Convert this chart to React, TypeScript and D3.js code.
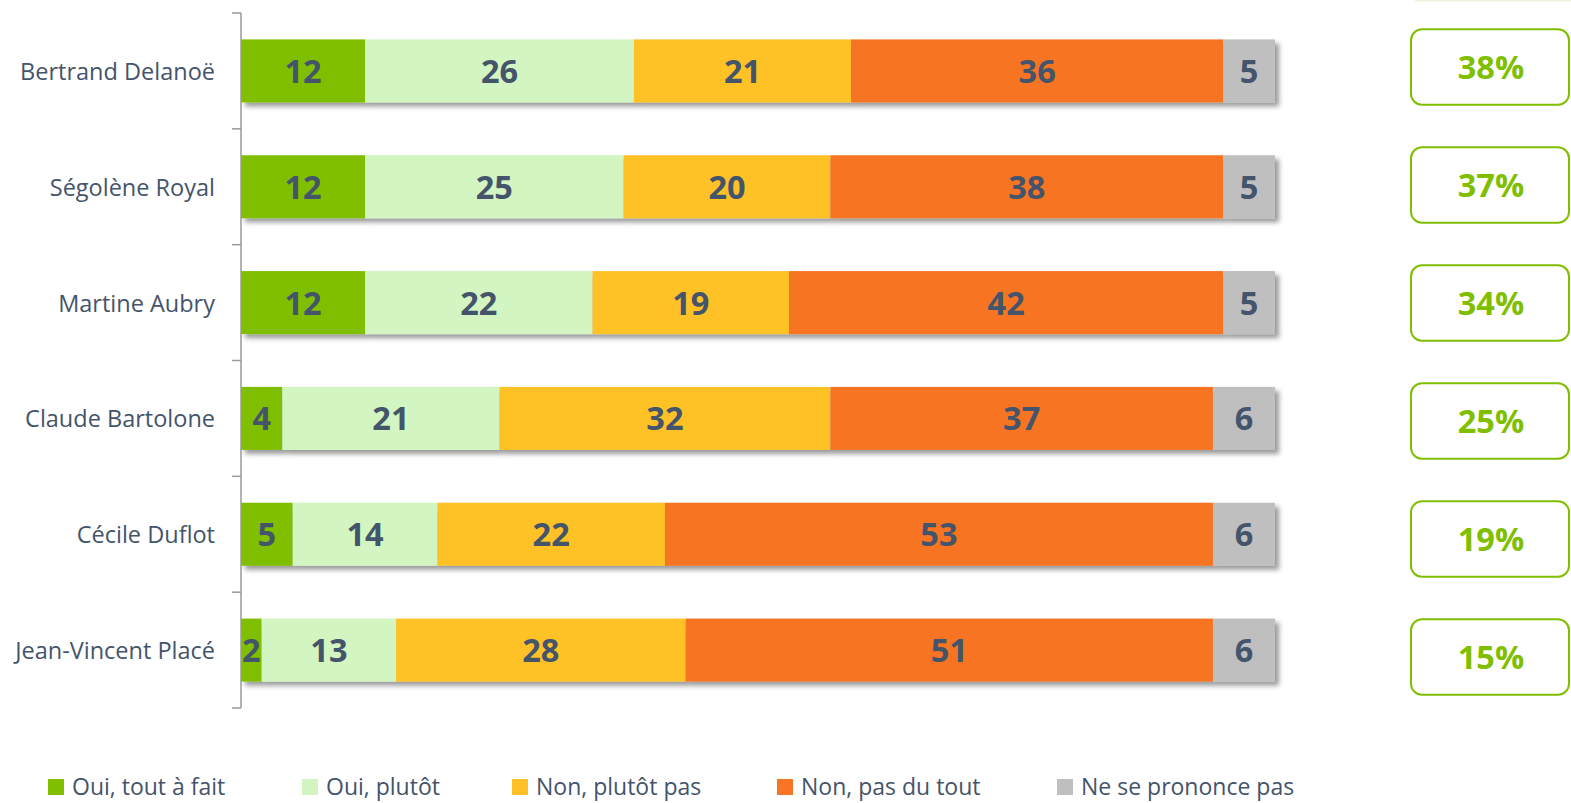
import React from "react";
import * as d3 from "d3";

const categories = [
  "Bertrand Delanoë",
  "Ségolène Royal",
  "Martine Aubry",
  "Claude Bartolone",
  "Cécile Duflot",
  "Jean-Vincent Placé",
];
const seriesNames = [
  "Oui, tout à fait",
  "Oui, plutôt",
  "Non, plutôt pas",
  "Non, pas du tout",
  "Ne se prononce pas",
];
const ouiToutAFait = [12, 12, 12, 4, 5, 2];
const ouiPlutot = [26, 25, 22, 21, 14, 13];
const nonPlutotPas = [21, 20, 19, 32, 22, 28];
const nonPasDuTout = [36, 38, 42, 37, 53, 51];
const nsp = [5, 5, 5, 6, 6, 6];
const totalOui = ["38%", "37%", "34%", "25%", "19%", "15%"];

const colors = ["#7fbf00", "#d2f5c1", "#fec128", "#f77524", "#bfbfbf"];
const textColor = "#44546a";
const green = "#7fbf00";
const legendX = [48, 302, 512, 777, 1057];

export default function App() {
  const W = 1571;
  const H = 803;
  const seriesVals = [ouiToutAFait, ouiPlutot, nonPlutotPas, nonPasDuTout, nsp];
  const rows = categories.map((c, i) => {
    const o: any = { cat: c };
    seriesNames.forEach((s, k) => (o[s] = seriesVals[k][i]));
    return o;
  });
  const stack = d3.stack<any>().keys(seriesNames)(rows);
  const x = d3.scaleLinear().domain([0, 100]).range([241, 1275]);
  const y = d3
    .scaleBand<string>()
    .domain(categories)
    .range([13, 708])
    .paddingInner(0.456)
    .paddingOuter(0.228);
  const step = y.step();
  const boxY = d3.scaleBand<string>().domain(categories).range([8, 716]).paddingInner(0.36).paddingOuter(0.18);
  const font = "'Open Sans', 'Noto Sans', sans-serif";

  return (
    <svg width={W} height={H} style={{ position: "absolute", left: 0, top: 0, background: "#fff" }}>
      <defs>
        <filter id="sh" x="-5%" y="-20%" width="115%" height="160%">
          <feDropShadow dx="4" dy="4" stdDeviation="2.4" floodColor="#000" floodOpacity="0.4" />
        </filter>
      </defs>
      <line x1={1415} x2={1571} y1={0.5} y2={0.5} stroke="#eef2dc" strokeWidth={2} />
      {categories.map((c, i) => (
        <g key={c} filter="url(#sh)">
          {stack.map((s, k) => (
            <rect
              key={k}
              x={x(s[i][0])}
              width={x(s[i][1]) - x(s[i][0])}
              y={y(c)}
              height={y.bandwidth()}
              fill={colors[k]}
            />
          ))}
        </g>
      ))}
      {categories.map((c, i) =>
        stack.map((s, k) => (
          <text
            key={c + k}
            x={(x(s[i][0]) + x(s[i][1])) / 2}
            y={(y(c) as number) + y.bandwidth() / 2 + 12}
            textAnchor="middle"
            fontFamily={font}
            fontWeight="bold"
            fontSize={32.5}
            fill={textColor}
          >
            {s[i][1] - s[i][0]}
          </text>
        ))
      )}
      <line x1={241} x2={241} y1={13} y2={708} stroke="#9a9a9a" strokeWidth={1.5} />
      {d3.range(categories.length + 1).map((j) => (
        <line key={j} x1={232} x2={241} y1={13 + j * step} y2={13 + j * step} stroke="#9a9a9a" strokeWidth={1.5} />
      ))}
      {categories.map((c) => (
        <text
          key={c}
          x={215}
          y={(y(c) as number) + y.bandwidth() / 2 + 9}
          textAnchor="end"
          fontFamily={font}
          fontSize={23.5}
          fill={textColor}
        >
          {c}
        </text>
      ))}
      {categories.map((c, i) => (
        <g key={c}>
          <rect
            x={1411}
            y={boxY(c)}
            width={158}
            height={boxY.bandwidth()}
            rx={11}
            fill="#fff"
            stroke={green}
            strokeWidth={2}
          />
          <text
            x={1491}
            y={(boxY(c) as number) + boxY.bandwidth() / 2 + 12}
            textAnchor="middle"
            fontFamily={font}
            fontWeight="bold"
            fontSize={32.5}
            fill={green}
          >
            {totalOui[i]}
          </text>
        </g>
      ))}
      {seriesNames.map((s, k) => (
        <g key={s} transform={`translate(${legendX[k]},779)`}>
          <rect width={16} height={16} fill={colors[k]} />
          <text x={24} y={16} fontFamily={font} fontSize={23} fill={textColor}>
            {s}
          </text>
        </g>
      ))}
    </svg>
  );
}
